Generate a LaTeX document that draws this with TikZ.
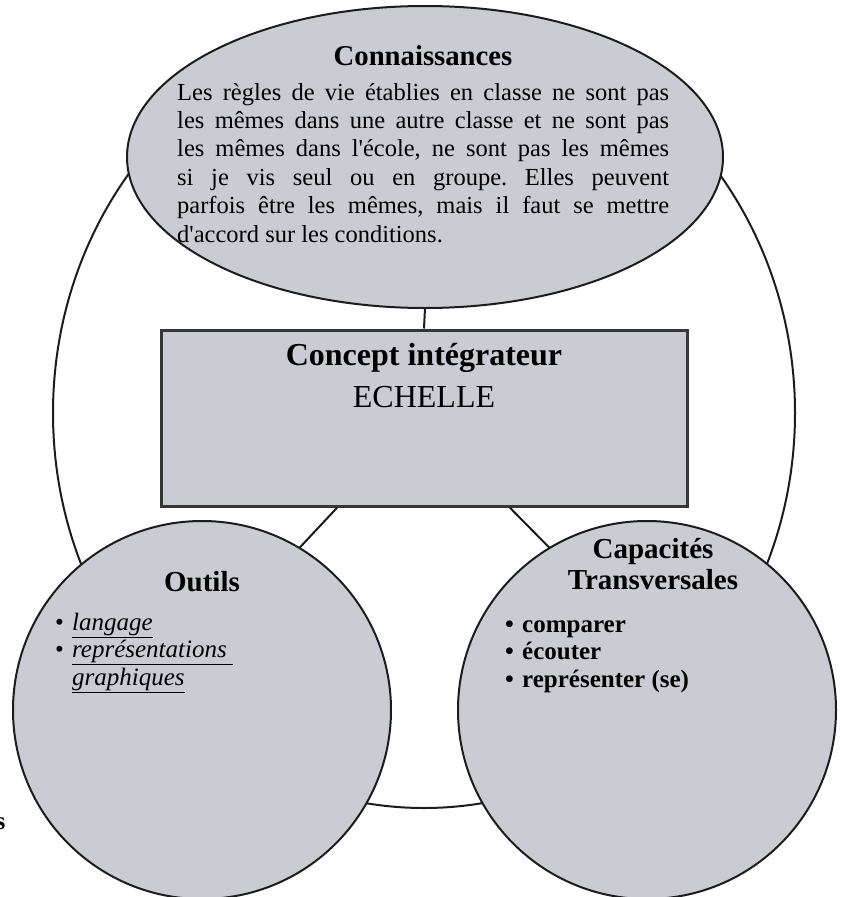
\documentclass[tikz,border=0pt]{standalone}
\usepackage{fontspec}
\setmainfont{Liberation Serif}
\usetikzlibrary{shapes.geometric,calc}
\definecolor{shapefill}{RGB}{201,204,211}
\definecolor{edgecol}{RGB}{28,28,28}
\definecolor{rectline}{RGB}{55,55,55}
\frenchspacing
\begin{document}
\begin{tikzpicture}[x=1pt,y=-1pt,
  blob/.style={draw=edgecol, line width=2pt, fill=shapefill, inner sep=0pt, outer sep=0pt},
  link/.style={draw=edgecol, line width=2pt},
  ttl/.style={font=\bfseries\fontsize{29}{31}\selectfont, inner sep=0pt, align=center},
  bodytext/.style={font=\fontsize{24.5}{28.4}\selectfont, inner sep=0pt, align=left},
  listtext/.style={font=\fontsize{25}{27.3}\selectfont, inner sep=0pt, align=left},
  blist/.style={font=\bfseries\fontsize{25}{27.5}\selectfont, inner sep=0pt, align=left}]
\useasboundingbox (0,0) rectangle (841,897);
% outer ellipse
\node[draw=edgecol, line width=2pt, ellipse, minimum width=742pt, minimum height=790pt, inner sep=0pt] (outer) at (424,413) {};
% shapes
\node[blob, ellipse, minimum width=596pt, minimum height=302pt] (know) at (425,157) {};
\node[draw=rectline, line width=3pt, fill=shapefill, rectangle, minimum width=526pt, minimum height=176pt, inner sep=0pt] (concept) at (424,418) {};
\node[blob, circle, minimum size=378pt] (tools) at (202,710) {};
\node[blob, circle, minimum size=378pt] (skills) at (647,710) {};
% connectors
\coordinate (cl) at ($(concept.south west)!0.336!(concept.south east)$);
\coordinate (cr) at ($(concept.south west)!0.662!(concept.south east)$);
\draw[link] (know.south) -- (concept.north);
\draw[link] (cl) -- (tools.59);
\draw[link] (cr) -- (skills.121.7);
% texts (base anchor of a multi-line node = baseline of its last line)
\node[ttl, font=\bfseries\fontsize{28.7}{31}\selectfont, anchor=base] (knowtitle) at (423,65) {Connaissances};
\node[bodytext, anchor=base west] (knowtext) at (177,242) {%
\makebox[492pt][s]{Les règles de vie établies en classe ne sont pas}\\
\makebox[492pt][s]{les mêmes dans une autre classe et ne sont pas}\\
\makebox[492pt][s]{les mêmes dans l\textquotesingle école, ne sont pas les mêmes}\\
\makebox[492pt][s]{si je vis seul ou en groupe. Elles peuvent}\\
\makebox[492pt][s]{parfois être les mêmes, mais il faut se mettre}\\
d\textquotesingle accord sur les conditions.};
\node[anchor=base, inner sep=0pt, font=\bfseries\fontsize{32}{36}\selectfont] (concepttitle) at (424,365) {Concept intégrateur};
\node[anchor=base, inner sep=0pt, font=\fontsize{32}{36}\selectfont] (conceptword) at (424,407) {ECHELLE};
\node[ttl, anchor=base] (toolstitle) at (202,591) {Outils};
\node[ttl, anchor=base] (skillstitle) at (653,589) {Capacités\\Transversales};
\node[listtext, anchor=base west] (toolslist) at (55,685) {%
\makebox[17pt][l]{\textbullet}\underline{\textit{langage}}\\
\makebox[17pt][l]{\textbullet}\underline{\textit{représentations}\ }\\
\makebox[17pt][l]{}\underline{\textit{graphiques}}};
\node[blist, anchor=base west] (skillslist) at (505,687) {%
\makebox[17pt][l]{\textbullet}comparer\\
\makebox[17pt][l]{\textbullet}écouter\\
\makebox[17pt][l]{\textbullet}représenter (se)};
\node[anchor=base east, inner sep=0pt, font=\bfseries\fontsize{25}{25}\selectfont] (stray) at (5.5,829) {s};
\end{tikzpicture}
\end{document}
